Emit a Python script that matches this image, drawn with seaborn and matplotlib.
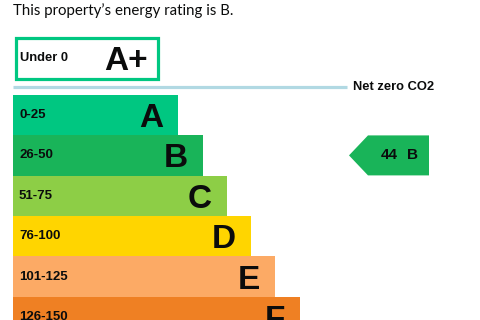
import matplotlib
matplotlib.use("Agg")
import matplotlib.pyplot as plt
from matplotlib.patches import Rectangle, Polygon
import seaborn as sns
import pandas as pd

# ---- data ----
bands = ["A", "B", "C", "D", "E", "F"]
ranges = ["0-25", "26-50", "51-75", "76-100", "101-125", "126-150"]
bar_lengths = [165, 190, 214, 238, 262, 287]
band_colors = ["#00c781", "#19b459", "#8dce46", "#ffd500", "#fcaa65", "#ef8023"]
top_band = "A+"
top_range = "Under 0"
current_score = 44
current_band = "B"
title = "This property\u2019s energy rating is B."
net_zero_label = "Net zero CO2"

sns.set_theme(style="white")
plt.rcParams["font.family"] = ["Liberation Sans", "DejaVu Sans"]

W, H = 480, 320
fig = plt.figure(figsize=(W / 100, H / 100), dpi=100)

# layout (pixels)
LEFT = 13
ROW0 = 115.0
PITCH = 40.4

ax = fig.add_axes([0, 0, 1, 1])
df = pd.DataFrame({"band": bands, "length": bar_lengths})
sns.barplot(data=df, x="length", y="band", hue="band", palette=band_colors,
            orient="h", width=1.0, legend=False, ax=ax, saturation=1,
            linewidth=0)
ax.set_xlim(-LEFT, W - LEFT)
ax.set_ylim((H - ROW0) / PITCH, (0 - ROW0) / PITCH)
ax.axis("off")

ov = fig.add_axes([0, 0, 1, 1])
ov.set_xlim(0, W)
ov.set_ylim(H, 0)
ov.axis("off")
ov.patch.set_alpha(0)

txt = "#0b0c0c"
# title
ov.text(13, 15, title, fontsize=10.8, color=txt, va="baseline", ha="left",
        family=["Lato", "DejaVu Sans"])

# A+ box
ov.add_patch(Rectangle((15.5, 37.5), 142, 41, facecolor="white",
                       edgecolor=band_colors[0], linewidth=2.3))
ov.text(20, 58, top_range, fontsize=9.3, fontweight="bold", color=txt,
        va="center", ha="left")
ov.text(148, 70, top_band, fontsize=24, fontweight="bold", color=txt,
        va="baseline", ha="right")

# net zero line
ov.plot([13, 347], [87, 87], color="#b1d9e3", linewidth=2.3,
        solid_capstyle="butt")
ov.text(353, 87, net_zero_label, fontsize=9.3, fontweight="bold", color=txt,
        va="center", ha="left")

# band labels
for i, (b, r, L) in enumerate(zip(bands, ranges, bar_lengths)):
    yc = ROW0 + PITCH * i
    ov.text(19, yc, r, fontsize=9.5, fontweight="bold", color=txt,
            va="center", ha="left")
    ov.text(LEFT + L - 15, yc + 12, b, fontsize=24, fontweight="bold",
            color=txt, va="baseline", ha="right")

# current rating arrow
idx = bands.index(current_band)
yc = ROW0 + PITCH * idx
top, bot = yc - 20, yc + 20
ov.add_patch(Polygon([(349, yc), (368, top), (429, top), (429, bot), (368, bot)],
                     closed=True, facecolor=band_colors[idx], edgecolor="none"))
ov.text(389, yc, f"{current_score}", fontsize=11, fontweight="bold", color=txt,
        va="center", ha="center")
ov.text(412, yc, current_band, fontsize=11, fontweight="bold", color=txt,
        va="center", ha="center")

fig.savefig("out.png", dpi=100)
